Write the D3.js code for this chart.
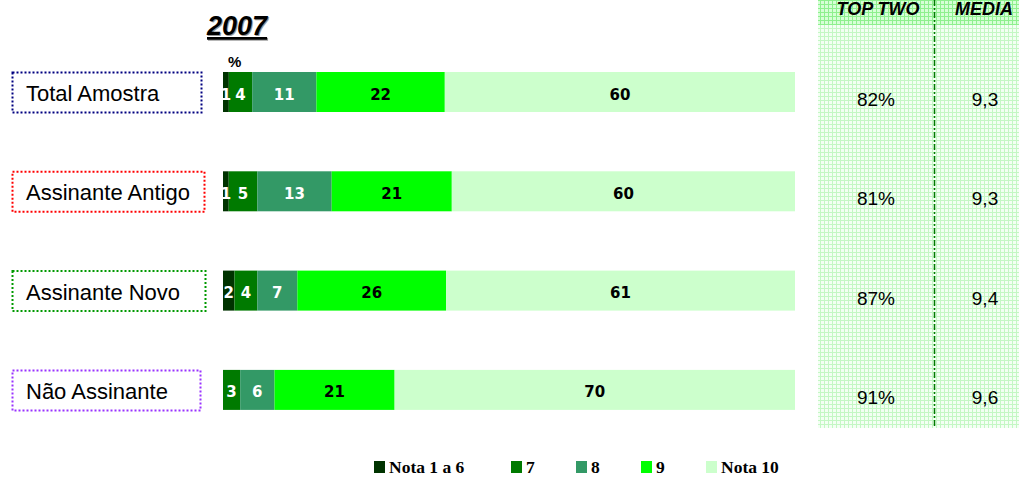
<!DOCTYPE html>
<html>
<head>
<meta charset="utf-8">
<script src="https://cdn.jsdelivr.net/npm/d3@7"></script>
<style>
  body { margin: 0; background: #fff; }
</style>
</head>
<body>
<script>
// data
var categories = ['Total Amostra', 'Assinante Antigo', 'Assinante Novo', 'Não Assinante'];
var series = ['Nota 1 a 6', '7', '8', '9', 'Nota 10'];
var nota1a6 = [1, 1, 2, 0];
var nota7 = [4, 5, 4, 3];
var nota8 = [11, 13, 7, 6];
var nota9 = [22, 21, 26, 21];
var nota10 = [60, 60, 61, 70];
var topTwo = ['82%', '81%', '87%', '91%'];
var media = ['9,3', '9,3', '9,4', '9,6'];

var values = [nota1a6, nota7, nota8, nota9, nota10];
var colors = ['#003300', '#007a00', '#339966', '#00ff00', '#ccffcc'];
var labelColors = ['#fff', '#fff', '#fff', '#000', '#000'];
var boxColors = ['#000080', '#ff0000', '#009900', '#9933ff'];
var boxWidths = [189, 192, 193, 188];

var W = 1019, H = 477;
var svg = d3.select('body').append('svg')
  .attr('width', W)
  .attr('height', H)
  .style('font-family', 'Arial, "Liberation Sans", sans-serif');

// right panel grid pattern
var defs = svg.append('defs');
function gridPattern(id, bg, line) {
  var p = defs.append('pattern')
    .attr('id', id)
    .attr('width', 4).attr('height', 4)
    .attr('patternUnits', 'userSpaceOnUse');
  p.append('rect').attr('width', 4).attr('height', 4).attr('fill', bg);
  p.append('rect').attr('width', 1).attr('height', 4).attr('fill', line);
  p.append('rect').attr('width', 4).attr('height', 1).attr('fill', line);
}
gridPattern('gridBody', '#f3fff3', '#c4f7c4');
gridPattern('gridHead', '#d6ffd6', '#8ef08e');

svg.append('rect').attr('x', 818).attr('y', 0).attr('width', 201).attr('height', 428)
  .attr('fill', 'url(#gridBody)');
svg.append('rect').attr('x', 818).attr('y', 0).attr('width', 201).attr('height', 25)
  .attr('fill', 'url(#gridHead)');
svg.append('line')
  .attr('x1', 934.5).attr('x2', 934.5).attr('y1', 0).attr('y2', 428)
  .attr('stroke', '#007a00').attr('stroke-width', 1.5)
  .attr('stroke-dasharray', '6,2,2,2');

svg.append('text').text('TOP TWO')
  .attr('x', 878).attr('y', 15)
  .attr('text-anchor', 'middle')
  .style('font-size', '18px').style('font-weight', 'bold').style('font-style', 'italic');
svg.append('text').text('MEDIA')
  .attr('x', 984).attr('y', 15)
  .attr('text-anchor', 'middle')
  .style('font-size', '18px').style('font-weight', 'bold').style('font-style', 'italic');

// title with shadow
svg.append('text').text('2007')
  .attr('x', 208).attr('y', 36)
  .attr('fill', '#999')
  .style('font-size', '27px').style('font-weight', 'bold').style('font-style', 'italic')
  .style('text-decoration', 'underline');
svg.append('text').text('2007')
  .attr('x', 207).attr('y', 35)
  .style('font-size', '27px').style('font-weight', 'bold').style('font-style', 'italic')
  .style('text-decoration', 'underline');

svg.append('text').text('%')
  .attr('x', 228).attr('y', 67)
  .style('font-size', '15px').style('font-weight', 'bold');

// scales
var barH = 40, step = 99.3;
var y = d3.scaleBand()
  .domain(categories)
  .range([72, 72 + 3 * step + barH])
  .paddingInner((step - barH) / step)
  .paddingOuter(0);

var rows = categories.map(function(c, i) {
  var x0 = 0;
  var segs = values.map(function(v, s) {
    var seg = {s: s, v: v[i], x0: x0, x1: x0 + v[i]};
    x0 += v[i];
    return seg;
  });
  return {cat: c, i: i, total: x0, segs: segs};
});

var row = svg.selectAll('.row')
  .data(rows)
  .enter().append('g')
  .attr('class', 'row')
  .attr('transform', function(d) { return 'translate(0,' + y(d.cat) + ')'; });

row.each(function(d) {
  var g = d3.select(this);
  var x = d3.scaleLinear().domain([0, d.total]).range([223, 795]);
  var segs = d.segs.filter(function(s) { return s.v > 0; });

  g.selectAll('rect.seg')
    .data(segs)
    .enter().append('rect')
    .attr('class', 'seg')
    .attr('x', function(s) { return x(s.x0); })
    .attr('width', function(s) { return x(s.x1) - x(s.x0); })
    .attr('height', y.bandwidth())
    .attr('fill', function(s) { return colors[s.s]; });

  g.selectAll('text.val')
    .data(segs)
    .enter().append('text')
    .attr('class', 'val')
    .text(function(s) { return s.v; })
    .attr('x', function(s) { return (x(s.x0) + x(s.x1)) / 2; })
    .attr('y', 27.5)
    .attr('text-anchor', 'middle')
    .attr('fill', function(s) { return labelColors[s.s]; })
    .style('font-family', '"DejaVu Sans", Verdana, sans-serif')
    .style('font-size', '15px')
    .style('font-weight', 'bold');

  // category label box
  g.append('rect')
    .attr('x', 12.5).attr('y', 0.5)
    .attr('width', boxWidths[d.i]).attr('height', 40)
    .attr('fill', 'none')
    .attr('stroke', boxColors[d.i])
    .attr('stroke-width', 2)
    .attr('stroke-dasharray', '2,2');
  g.append('text').text(d.cat)
    .attr('x', 26).attr('y', 29)
    .style('font-size', '22px');

  g.append('text').text(topTwo[d.i])
    .attr('x', 876).attr('y', 34)
    .attr('text-anchor', 'middle')
    .style('font-size', '19px');
  g.append('text').text(media[d.i])
    .attr('x', 985).attr('y', 34)
    .attr('text-anchor', 'middle')
    .style('font-size', '19px');
});

// legend
var legendX = [374, 511, 576, 641, 706];
var legend = svg.selectAll('.legend')
  .data(series)
  .enter().append('g')
  .attr('class', 'legend')
  .attr('transform', function(d, i) { return 'translate(' + legendX[i] + ',461)'; });
legend.append('rect')
  .attr('width', 11).attr('height', 12)
  .attr('fill', function(d, i) { return colors[i]; });
legend.append('text')
  .text(function(d) { return d; })
  .attr('x', 15).attr('y', 12)
  .style('font-family', '"Liberation Serif", "Times New Roman", serif')
  .style('font-size', '17.5px')
  .style('font-weight', 'bold');
</script>
</body>
</html>
